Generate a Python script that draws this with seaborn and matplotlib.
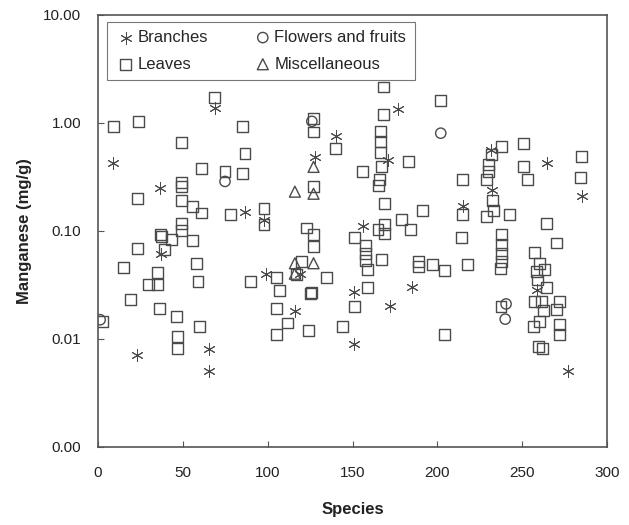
import matplotlib
matplotlib.use("Agg")
import matplotlib.pyplot as plt
import matplotlib.ticker as mticker
import pandas as pd
import seaborn as sns

# values (species index, manganese mg/g)
branches_x = [8.7, 22.8, 36.5, 37.1, 65.6, 65.6, 69.0, 86.6, 97.8, 98.8, 116, 119, 127.9, 140,
              151, 151, 156, 170.7, 172, 177, 185, 215.3, 231.6, 232.4, 259, 264.4, 277, 285]
branches_y = [0.42, 0.0071, 0.25, 0.061, 0.008, 0.005, 1.37, 0.15, 0.125, 0.040, 0.018, 0.040, 0.48, 0.75,
              0.027, 0.009, 0.111, 0.45, 0.020, 1.34, 0.030, 0.168, 0.56, 0.24, 0.028, 0.42, 0.005, 0.21]

flowers_x = [1.2, 74.8, 126, 202, 240.5, 240]
flowers_y = [0.015, 0.286, 1.03, 0.80, 0.021, 0.0152]

misc_x = [116, 116, 116, 127, 127, 127]
misc_y = [0.23, 0.050, 0.040, 0.39, 0.22, 0.050]

leaves_x = [2.4, 8.8, 23.6, 23, 23, 14.7, 18.9, 29.5, 34.8, 34.8, 36.8, 37.6, 38.9, 43, 36, 46, 46.6, 46.6,
            48.9, 48.9, 48.9, 48.9, 48.9, 48.9, 55.4, 55.4, 60.7, 60.7, 57.8, 58.9, 60,
            68.4, 85, 86.6, 74.8, 85, 77.8, 97.8, 97.8, 90, 104.9, 106.8, 104.9, 111.8, 104.9,
            120, 117, 124, 127, 127, 127, 123, 127, 127, 126, 125, 134.8, 144, 140,
            151, 156, 157.7, 157.7, 157.7, 159, 159, 151, 168, 168, 166.2, 166.2, 166.2, 167.2, 166, 165.5,
            169, 169, 165, 169, 167.2, 179, 184.4, 183,
            189, 189, 191, 197, 202, 204, 204, 214.3, 215, 215, 218,
            229, 230.4, 230.4, 232, 238, 232.5, 233, 229, 242.8, 238, 238, 238, 238, 237, 237.5,
            250.6, 250.6, 253.2, 264.4, 270, 257, 260, 263.4, 258.5, 259, 264.4, 261.5, 257, 272,
            262.4, 270.3, 260, 256.5, 272, 272, 259.5, 262, 285, 284.4]
leaves_y = [0.0144, 0.92, 1.02, 0.20, 0.068, 0.046, 0.023, 0.032, 0.032, 0.041, 0.092, 0.088, 0.067, 0.083,
            0.019, 0.016, 0.0104, 0.0082,
            0.66, 0.28, 0.255, 0.19, 0.116, 0.10, 0.167, 0.081, 0.38, 0.146, 0.05, 0.034, 0.013,
            1.7, 0.92, 0.52, 0.355, 0.34, 0.14, 0.16, 0.114, 0.034, 0.037, 0.028, 0.019, 0.014, 0.011,
            0.052, 0.039, 0.012, 1.1, 0.82, 0.255, 0.106, 0.092, 0.072, 0.027, 0.026, 0.037, 0.013, 0.58,
            0.086, 0.355, 0.073, 0.062, 0.053, 0.044, 0.030, 0.020, 2.14, 1.19, 0.83, 0.67, 0.53, 0.39, 0.30, 0.26,
            0.18, 0.114, 0.102, 0.094, 0.054, 0.128, 0.102, 0.44,
            0.052, 0.047, 0.154, 0.049, 1.61, 0.043, 0.011, 0.087, 0.14, 0.30, 0.049,
            0.30, 0.41, 0.35, 0.51, 0.60, 0.19, 0.154, 0.135, 0.14, 0.092, 0.074, 0.062, 0.052, 0.045, 0.020,
            0.64, 0.39, 0.30, 0.116, 0.077, 0.063, 0.050, 0.044, 0.042, 0.035, 0.030, 0.022, 0.022, 0.022,
            0.0183, 0.0185, 0.0145, 0.013, 0.0135, 0.011, 0.0085, 0.0081, 0.49, 0.31]

sns.set_theme(style="white")
plt.rcParams["font.family"] = ["Liberation Sans", "DejaVu Sans"]

edge = "#4a4a4a"

fig = plt.figure(figsize=(6.29, 5.25), dpi=100)
ax = fig.add_axes([0.156, 0.149, 0.809, 0.823])

groups = [
    ("Branches", branches_x, branches_y, (6, 2, 0), 70),
    ("Leaves", leaves_x, leaves_y, "s", 62),
    ("Flowers and fruits", flowers_x, flowers_y, "o", 55),
    ("Miscellaneous", misc_x, misc_y, "^", 62),
]

for name, xs, ys, mk, size in groups:
    df = pd.DataFrame({"species": xs, "mn": ys})
    if mk == (6, 2, 0):
        sns.scatterplot(data=df, x="species", y="mn", marker=mk, s=size, color=edge,
                        linewidth=0.7, label=name, ax=ax)
    else:
        sns.scatterplot(data=df, x="species", y="mn", marker=mk, s=size, facecolor="none",
                        edgecolor=edge, linewidth=1.0, label=name, ax=ax)

ax.set_yscale("log")
ax.set_xlim(0, 300)
ax.set_ylim(0.001, 10)
ax.set_xticks([0, 50, 100, 150, 200, 250, 300])
ax.set_yticks([0.001, 0.01, 0.1, 1, 10])
ax.yaxis.set_major_formatter(mticker.FuncFormatter(lambda v, p: "%.2f" % v))
ax.yaxis.set_minor_locator(mticker.NullLocator())
ax.tick_params(axis="both", direction="in", length=4, width=0.8, color="#555555",
               labelsize=11, labelcolor="#222222", left=True, bottom=True)
ax.tick_params(axis="y", pad=12)
ax.tick_params(axis="x", pad=14)

for sp in ax.spines.values():
    sp.set_color("#555555")
    sp.set_linewidth(1.2)

ax.set_xlabel("Species", fontsize=12, fontweight="bold", color="#222222", labelpad=16)
ax.set_ylabel("Manganese (mg/g)", fontsize=12, fontweight="bold", color="#222222", labelpad=8)

leg = ax.legend(loc="upper left", bbox_to_anchor=(0.018, 0.984), ncol=2, fontsize=12,
                frameon=True, fancybox=False, borderaxespad=0, handletextpad=0.1,
                columnspacing=2.7, handlelength=1.2, borderpad=0.5, labelspacing=0.7)
leg.get_frame().set_edgecolor("#555555")
leg.get_frame().set_linewidth(0.8)

fig.savefig("out.png", dpi=100)
